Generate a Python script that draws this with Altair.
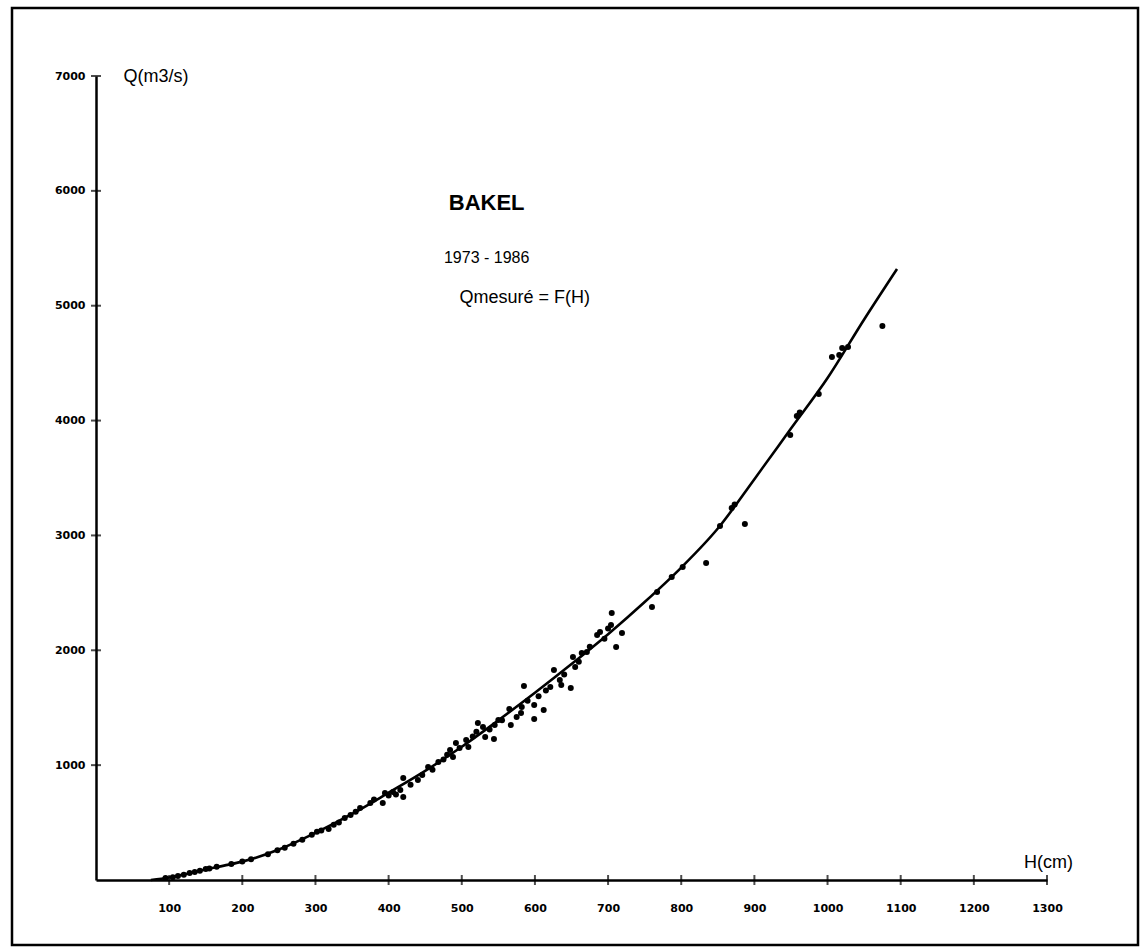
import altair as alt
import pandas as pd

# ---- data ----
H_pts = [95, 105, 112, 120, 128, 135, 142, 150, 155, 165, 185, 200, 212, 235, 248, 258, 270, 282, 295, 302, 308, 318, 325, 332, 340, 348, 355,
         361, 375, 380, 392, 395, 400, 406, 410, 416, 420, 420, 430, 440, 446, 454, 460, 468, 475, 480, 484, 488, 492, 497, 506, 509,
         515, 520, 522, 529, 532, 538, 544, 545, 550, 555, 565, 567, 575, 581, 582, 585, 590, 599, 599, 605, 612, 615, 621,
         626, 634, 636, 640, 649, 652, 655, 660, 664, 671, 675, 685, 689, 695, 700, 704, 705, 711, 719,
         760, 767, 787, 802, 834, 853, 869, 873, 887, 949, 958, 962, 988, 1006, 1016, 1020, 1028, 1075]
Q_pts = [18, 25, 35, 45, 60, 70, 80, 95, 100, 115, 140, 160, 180, 225, 260, 280, 315, 350, 395, 420, 430, 445, 480, 500, 540, 565, 595,
         627, 670, 700, 670, 757, 735, 766, 745, 784, 723, 888, 830, 870, 914, 984, 960, 1027, 1050, 1090, 1132, 1071, 1193, 1150, 1219, 1158,
         1250, 1290, 1367, 1332, 1245, 1310, 1228, 1350, 1393, 1390, 1489, 1349, 1420, 1454, 1506, 1689, 1560, 1402, 1524, 1600, 1480, 1650, 1680,
         1828, 1741, 1698, 1790, 1672, 1941, 1854, 1900, 1976, 1985, 2030, 2133, 2159, 2100, 2190, 2220, 2325, 2029, 2150,
         2377, 2507, 2638, 2725, 2760, 3082, 3239, 3270, 3099, 3874, 4040, 4070, 4231, 4553, 4571, 4632, 4640, 4823]

H_curve = [75, 100, 125, 150, 175, 200, 250, 300, 350, 400, 450, 500, 550, 600, 650, 700, 750, 800, 850, 900, 950, 1000, 1050, 1095]
Q_curve = [0, 22, 55, 92, 125, 160, 265, 410, 575, 760, 950, 1160, 1390, 1630, 1880, 2140, 2420, 2720, 3060, 3490, 3930, 4370, 4880, 5320]

x_ticks = [100, 200, 300, 400, 500, 600, 700, 800, 900, 1000, 1100, 1200, 1300]
y_ticks = [1000, 2000, 3000, 4000, 5000, 6000, 7000]

title_texts = ["BAKEL", "1973 - 1986", "Qmesuré = F(H)"]
title_H = [534, 534, 586]
title_Q = [5894, 5415, 5067]

# ---- tables ----
pts = pd.DataFrame({"H": H_pts, "Q": Q_pts})
curve = pd.DataFrame({"H": H_curve, "Q": Q_curve})
xt = pd.DataFrame({"H": x_ticks, "Q": [0] * len(x_ticks)})
yt = pd.DataFrame({"H": [0] * len(y_ticks), "Q": y_ticks})
ann = pd.DataFrame({"H": title_H, "Q": title_Q, "text": title_texts})

W, HGT = 951, 804
xs = alt.Scale(domain=[0, 1300], nice=False, zero=True)
ys = alt.Scale(domain=[0, 7000], nice=False, zero=True)

xaxis = alt.Axis(values=x_ticks, format="d", ticks=False, grid=False,
                 domainColor="black", domainWidth=2.5,
                 labelFont="DejaVu Sans", labelFontWeight="bold", labelFontSize=11,
                 labelColor="black", labelPadding=22, labelFlush=False,
                 title="H(cm)", titleFont="Liberation Sans", titleFontWeight="normal",
                 titleFontSize=18, titleColor="black", titleX=952, titleY=-18,
                 titleAlign="center", titleBaseline="middle")
yaxis = alt.Axis(values=y_ticks, format="d", ticks=False, grid=False,
                 domainColor="black", domainWidth=2.5,
                 labelFont="DejaVu Sans", labelFontWeight="bold", labelFontSize=11,
                 labelColor="black", labelPadding=11, labelFlush=False,
                 title="Q(m3/s)", titleFont="Liberation Sans", titleFontWeight="normal",
                 titleFontSize=18, titleColor="black", titleAngle=0, titleX=27, titleY=0,
                 titleAlign="left", titleBaseline="middle")

X = alt.X("H:Q", scale=xs, axis=xaxis)
Y = alt.Y("Q:Q", scale=ys, axis=yaxis)

points = alt.Chart(pts).mark_circle(size=36, color="black", opacity=1).encode(x=X, y=Y)
line = alt.Chart(curve).mark_line(color="black", strokeWidth=2.6, interpolate="monotone").encode(
    x=alt.X("H:Q", scale=xs), y=alt.Y("Q:Q", scale=ys))
xticks = alt.Chart(xt).mark_tick(orient="vertical", size=10, thickness=2, color="black").encode(
    x=alt.X("H:Q", scale=xs), y=alt.Y("Q:Q", scale=ys))
yticks = alt.Chart(yt).mark_tick(orient="horizontal", size=10, thickness=2, color="black").encode(
    x=alt.X("H:Q", scale=xs), y=alt.Y("Q:Q", scale=ys))

t1 = alt.Chart(ann.iloc[[0]]).mark_text(font="Liberation Sans", fontWeight="bold", fontSize=22,
                                        color="black", align="center", baseline="middle").encode(
    x=alt.X("H:Q", scale=xs), y=alt.Y("Q:Q", scale=ys), text="text:N")
t2 = alt.Chart(ann.iloc[[1]]).mark_text(font="Liberation Sans", fontSize=16,
                                        color="black", align="center", baseline="middle").encode(
    x=alt.X("H:Q", scale=xs), y=alt.Y("Q:Q", scale=ys), text="text:N")
t3 = alt.Chart(ann.iloc[[2]]).mark_text(font="Liberation Sans", fontSize=18,
                                        color="black", align="center", baseline="middle").encode(
    x=alt.X("H:Q", scale=xs), y=alt.Y("Q:Q", scale=ys), text="text:N")

frame = alt.Chart(pd.DataFrame({"a": [0]})).mark_rect(filled=False, stroke="black", strokeWidth=2.5).encode(
    x=alt.value(-84), x2=alt.value(1042), y=alt.value(-68), y2=alt.value(869))

chart = alt.layer(frame, line, points, xticks, yticks, t1, t2, t3).properties(
    width=W, height=HGT,
    autosize=alt.AutoSizeParams(type="none"),
    padding={"left": 96, "top": 76, "right": 94, "bottom": 71},
    background="white",
).configure_view(stroke=None)

chart.save("out.html", embed_options={"renderer": "svg", "actions": False})
